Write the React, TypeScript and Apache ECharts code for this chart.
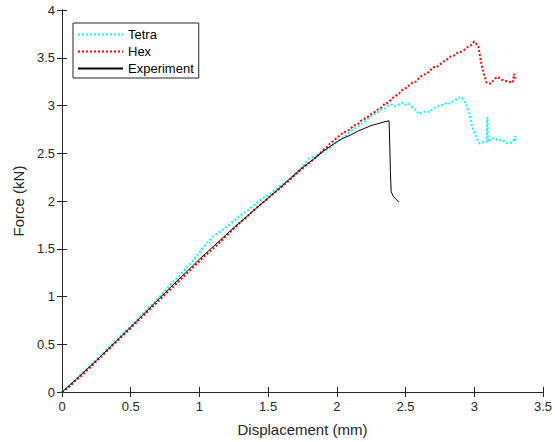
import React, { useEffect, useRef } from "react";
import * as echarts from "echarts";

const tetraX = [0, 0.05, 0.1, 0.15, 0.2, 0.25, 0.3, 0.35, 0.4, 0.45, 0.5, 0.55, 0.6, 0.65, 0.7, 0.75, 0.8, 0.85, 0.9, 0.95, 1.0, 1.05, 1.1, 1.15, 1.2, 1.25, 1.3, 1.35, 1.4, 1.45, 1.5, 1.55, 1.6, 1.65, 1.7, 1.75, 1.8, 1.85, 1.9, 1.95, 2.0, 2.05, 2.1, 2.15, 2.2, 2.25, 2.3, 2.325, 2.35, 2.375, 2.4, 2.425, 2.45, 2.475, 2.5, 2.525, 2.55, 2.575, 2.6, 2.625, 2.65, 2.675, 2.7, 2.725, 2.75, 2.775, 2.8, 2.825, 2.85, 2.875, 2.9, 2.925, 2.95, 2.97, 2.98, 3.0, 3.02, 3.04, 3.07, 3.09, 3.095, 3.1, 3.125, 3.15, 3.175, 3.2, 3.225, 3.25, 3.28, 3.3, 3.3];
const tetraY = [0, 0.06, 0.13, 0.2, 0.27, 0.34, 0.41, 0.48, 0.55, 0.62, 0.69, 0.76, 0.84, 0.91, 0.98, 1.06, 1.14, 1.21, 1.29, 1.37, 1.46, 1.55, 1.63, 1.68, 1.73, 1.79, 1.85, 1.9, 1.96, 2.02, 2.06, 2.12, 2.17, 2.22, 2.29, 2.36, 2.45, 2.47, 2.52, 2.56, 2.62, 2.67, 2.73, 2.78, 2.83, 2.89, 2.93, 2.96, 2.97, 3.0, 3.01, 2.99, 3.01, 3.03, 3.01, 3.02, 2.98, 2.95, 2.91, 2.93, 2.94, 2.93, 2.97, 2.98, 3.0, 3.01, 3.03, 3.02, 3.05, 3.07, 3.09, 3.06, 2.98, 2.88, 2.8, 2.72, 2.65, 2.6, 2.62, 2.62, 2.88, 2.62, 2.65, 2.66, 2.63, 2.64, 2.62, 2.6, 2.62, 2.68, 2.62];

const hexX = [0, 0.05, 0.1, 0.15, 0.2, 0.25, 0.3, 0.35, 0.4, 0.45, 0.5, 0.55, 0.6, 0.65, 0.7, 0.75, 0.8, 0.85, 0.9, 0.95, 1.0, 1.05, 1.1, 1.15, 1.2, 1.25, 1.3, 1.35, 1.4, 1.45, 1.5, 1.55, 1.6, 1.65, 1.7, 1.75, 1.8, 1.85, 1.9, 1.925, 1.95, 1.975, 2.0, 2.025, 2.05, 2.075, 2.1, 2.125, 2.15, 2.175, 2.2, 2.225, 2.25, 2.275, 2.3, 2.325, 2.35, 2.375, 2.4, 2.425, 2.45, 2.475, 2.5, 2.525, 2.55, 2.575, 2.6, 2.625, 2.65, 2.675, 2.7, 2.725, 2.75, 2.775, 2.8, 2.825, 2.85, 2.875, 2.9, 2.925, 2.95, 2.975, 3.0, 3.03, 3.05, 3.07, 3.09, 3.12, 3.15, 3.17, 3.2, 3.25, 3.28, 3.29, 3.3];
const hexY = [0, 0.05, 0.12, 0.18, 0.25, 0.32, 0.39, 0.46, 0.53, 0.6, 0.67, 0.74, 0.81, 0.88, 0.95, 1.02, 1.09, 1.16, 1.23, 1.3, 1.37, 1.44, 1.5, 1.57, 1.64, 1.71, 1.78, 1.84, 1.91, 1.97, 2.03, 2.09, 2.15, 2.21, 2.28, 2.34, 2.4, 2.46, 2.53, 2.56, 2.6, 2.63, 2.66, 2.69, 2.72, 2.73, 2.76, 2.79, 2.8, 2.84, 2.86, 2.88, 2.91, 2.93, 2.96, 2.98, 3.02, 3.03, 3.07, 3.1, 3.12, 3.16, 3.18, 3.21, 3.24, 3.25, 3.29, 3.32, 3.33, 3.36, 3.4, 3.4, 3.43, 3.46, 3.48, 3.51, 3.52, 3.55, 3.56, 3.58, 3.61, 3.63, 3.67, 3.62, 3.45, 3.33, 3.24, 3.23, 3.28, 3.3, 3.27, 3.25, 3.24, 3.33, 3.28];

const expX = [0, 0.1, 0.25, 0.5, 0.75, 1.0, 1.25, 1.5, 1.75, 1.85, 1.9, 1.95, 2.0, 2.05, 2.1, 2.15, 2.2, 2.25, 2.3, 2.35, 2.38, 2.385, 2.39, 2.395, 2.41, 2.45];
const expY = [0, 0.13, 0.33, 0.68, 1.04, 1.39, 1.72, 2.03, 2.35, 2.46, 2.52, 2.57, 2.62, 2.66, 2.69, 2.73, 2.76, 2.79, 2.81, 2.83, 2.84, 2.6, 2.3, 2.1, 2.05, 1.99];

const xTicks = [0, 0.5, 1, 1.5, 2, 2.5, 3, 3.5];
const yTicks = [0, 0.5, 1, 1.5, 2, 2.5, 3, 3.5, 4];

const zip = (xs: number[], ys: number[]) => xs.map((x, i) => [x, ys[i]]);

export default function App() {
  const ref = useRef<HTMLDivElement>(null);
  useEffect(() => {
    if (!ref.current) return;
    const chart = echarts.init(ref.current, null, { renderer: "svg" });
    const axisColor = "#262626";
    const font = "'Liberation Sans', Arial, sans-serif";
    const baseX = {
      type: "value" as const,
      min: xTicks[0],
      max: xTicks[xTicks.length - 1],
      interval: 0.5,
      splitLine: { show: false },
      axisLine: { show: true, lineStyle: { color: axisColor, width: 1 } },
      axisTick: { show: true, inside: true, length: 5, lineStyle: { color: axisColor } },
    };
    const baseY = {
      type: "value" as const,
      min: yTicks[0],
      max: yTicks[yTicks.length - 1],
      interval: 0.5,
      splitLine: { show: false },
      axisLine: { show: true, lineStyle: { color: axisColor, width: 1 } },
      axisTick: { show: true, inside: true, length: 5, lineStyle: { color: axisColor } },
    };
    chart.setOption({
      animation: false,
      backgroundColor: "#fff",
      textStyle: { fontFamily: font },
      grid: { left: 62, right: 10, top: 10, bottom: 50 },
      legend: {
        orient: "vertical",
        left: 73,
        top: 23,
        padding: [5, 5, 3, 4],
        itemGap: 4,
        itemWidth: 45,
        itemHeight: 12,
        borderColor: axisColor,
        borderWidth: 1,
        backgroundColor: "#fff",
        itemStyle: { opacity: 0 },
        textStyle: { fontSize: 13, color: "#000", fontFamily: font },
        data: ["Tetra", "Hex", "Experiment"],
      },
      xAxis: [
        {
          ...baseX,
          position: "bottom",
          name: "Displacement (mm)",
          nameLocation: "middle",
          nameGap: 30,
          nameTextStyle: { fontSize: 15, color: axisColor, fontFamily: font },
          axisLabel: { fontSize: 13, color: axisColor, margin: 8, fontFamily: font },
        },
        { ...baseX, position: "top", axisLabel: { show: false } },
      ],
      yAxis: [
        {
          ...baseY,
          position: "left",
          name: "Force (kN)",
          nameLocation: "middle",
          nameGap: 34,
          nameTextStyle: { fontSize: 15, color: axisColor, fontFamily: font },
          axisLabel: { fontSize: 13, color: axisColor, margin: 7, fontFamily: font },
        },
        { ...baseY, position: "right", axisLabel: { show: false } },
      ],
      series: [
        {
          name: "Tetra",
          type: "line",
          data: zip(tetraX, tetraY),
          symbol: "none",
          lineStyle: { color: "#00ffff", width: 2, type: [2, 2] },
          itemStyle: { color: "#00ffff" },
        },
        {
          name: "Hex",
          type: "line",
          data: zip(hexX, hexY),
          symbol: "none",
          lineStyle: { color: "#ff0000", width: 2, type: [2, 2] },
          itemStyle: { color: "#ff0000" },
        },
        {
          name: "Experiment",
          type: "line",
          data: zip(expX, expY),
          symbol: "none",
          lineStyle: { color: "#000", width: 1 },
          itemStyle: { color: "#000" },
        },
      ],
    });
    return () => chart.dispose();
  }, []);
  return (
    <div
      ref={ref}
      style={{ position: "fixed", left: 0, top: 0, width: 555, height: 442 }}
    />
  );
}
